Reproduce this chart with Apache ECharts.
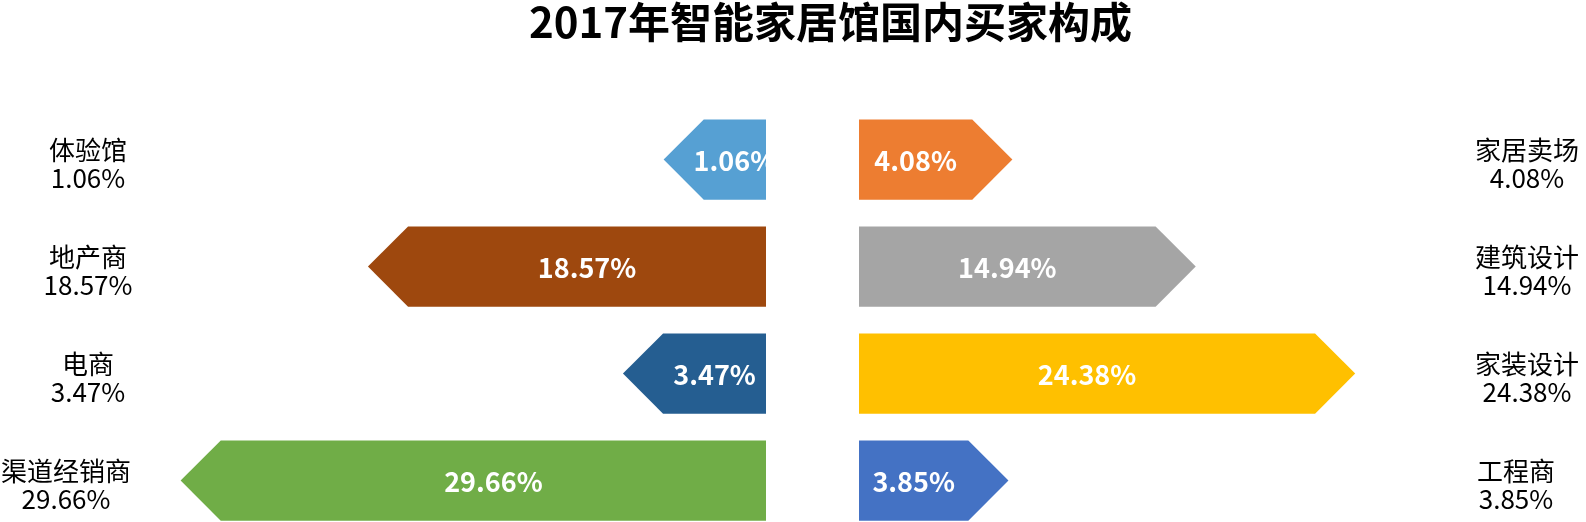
<!DOCTYPE html>
<html><head><meta charset="utf-8">
<script src="https://cdn.jsdelivr.net/npm/echarts@6/dist/echarts.min.js"></script>
<style>html,body{margin:0;padding:0;background:#fff}#c{width:1586px;height:522px}</style>
</head><body><div id="c"></div>
<script>
const titleText = '2017年智能家居馆国内买家构成';
const leftCategories = ['体验馆', '地产商', '电商', '渠道经销商'];
const leftValues = [1.06, 18.57, 3.47, 29.66];
const leftColors = ['#56A0D3', '#9E480E', '#255E91', '#70AD47'];
const rightCategories = ['家居卖场', '建筑设计', '家装设计', '工程商'];
const rightValues = [4.08, 14.94, 24.38, 3.85];
const rightColors = ['#ED7D31', '#A5A5A5', '#FFC000', '#4472C4'];

const FONT = '"Noto Sans CJK SC", "Noto Sans", sans-serif';
const axisMin = -5, axisMax = 40;
const barRatio = 0.75;

function renderArrow(params, api) {
  const cat = api.value(0), val = api.value(1);
  const base = api.coord([axisMin, cat]);
  const end = api.coord([val, cat]);
  const h = api.size([0, 1])[1] * barRatio;
  const dir = base[0] > end[0] ? 1 : -1;
  const cy = base[1], top = cy - h / 2, bot = cy + h / 2;
  const neck = end[0] + dir * h / 2;
  return {
    type: 'group',
    children: [
      { type: 'polygon', shape: { points: [[base[0], top], [neck, top], [end[0], cy], [neck, bot], [base[0], bot]] },
        style: { fill: api.visual('color') } },
      { type: 'text', style: { text: val.toFixed(2) + '%', x: (base[0] + neck) / 2, y: cy + 1,
        align: 'center', verticalAlign: 'middle', fill: '#fff', fontSize: 27, fontWeight: 'bold', fontFamily: FONT } }
    ]
  };
}

function labelFmt(values) {
  return function (name, idx) { return '{s| }\n{t|' + name + '}\n{t|' + values[idx].toFixed(2) + '%}'; };
}

const labelStyle = {
  inside: true, align: 'center', color: '#000', fontSize: 26, lineHeight: 28, fontFamily: FONT,
  rich: {
    s: { fontSize: 1, lineHeight: 10 },
    t: { fontSize: 26, lineHeight: 28, fontFamily: FONT, color: '#000' }
  }
};

const chart = echarts.init(document.getElementById('c'));
chart.setOption({
  backgroundColor: '#fff',
  animation: false,
  title: { text: titleText, left: 529, top: 0, padding: 0,
    textStyle: { fontSize: 42, fontWeight: 'bold', color: '#000', fontFamily: FONT, lineHeight: 44 } },
  grid: [
    { left: 6, width: 760, top: 106, height: 428, outerBoundsMode: 'none', containLabel: false },
    { left: 859, width: 760, top: 106, height: 428, outerBoundsMode: 'none', containLabel: false }
  ],
  xAxis: [
    { type: 'value', gridIndex: 0, min: axisMin, max: axisMax, inverse: true, show: false },
    { type: 'value', gridIndex: 1, min: axisMin, max: axisMax, show: false }
  ],
  yAxis: [
    { type: 'category', gridIndex: 0, position: 'left', inverse: true,
      data: leftCategories.map(c => c === '渠道经销商'
        ? { value: c, textStyle: { align: 'center', padding: [0, 44, 0, 0] } } : c),
      axisLine: { show: false, onZero: false }, axisTick: { show: false }, splitLine: { show: false },
      axisLabel: Object.assign({}, labelStyle, { margin: 82, formatter: labelFmt(leftValues) }) },
    { type: 'category', gridIndex: 1, position: 'right', inverse: true,
      data: rightCategories.map(c => c === '工程商'
        ? { value: c, textStyle: { align: 'center', padding: [0, 22, 0, 0] } } : c),
      axisLine: { show: false, onZero: false }, axisTick: { show: false }, splitLine: { show: false },
      axisLabel: Object.assign({}, labelStyle, { margin: 92, formatter: labelFmt(rightValues) }) }
  ],
  series: [
    { type: 'custom', xAxisIndex: 0, yAxisIndex: 0, renderItem: renderArrow, encode: { x: 1, y: 0 },
      data: leftValues.map((v, i) => ({ value: [i, v], itemStyle: { color: leftColors[i] } })) },
    { type: 'custom', xAxisIndex: 1, yAxisIndex: 1, renderItem: renderArrow, encode: { x: 1, y: 0 },
      data: rightValues.map((v, i) => ({ value: [i, v], itemStyle: { color: rightColors[i] } })) }
  ]
});
</script></body></html>
